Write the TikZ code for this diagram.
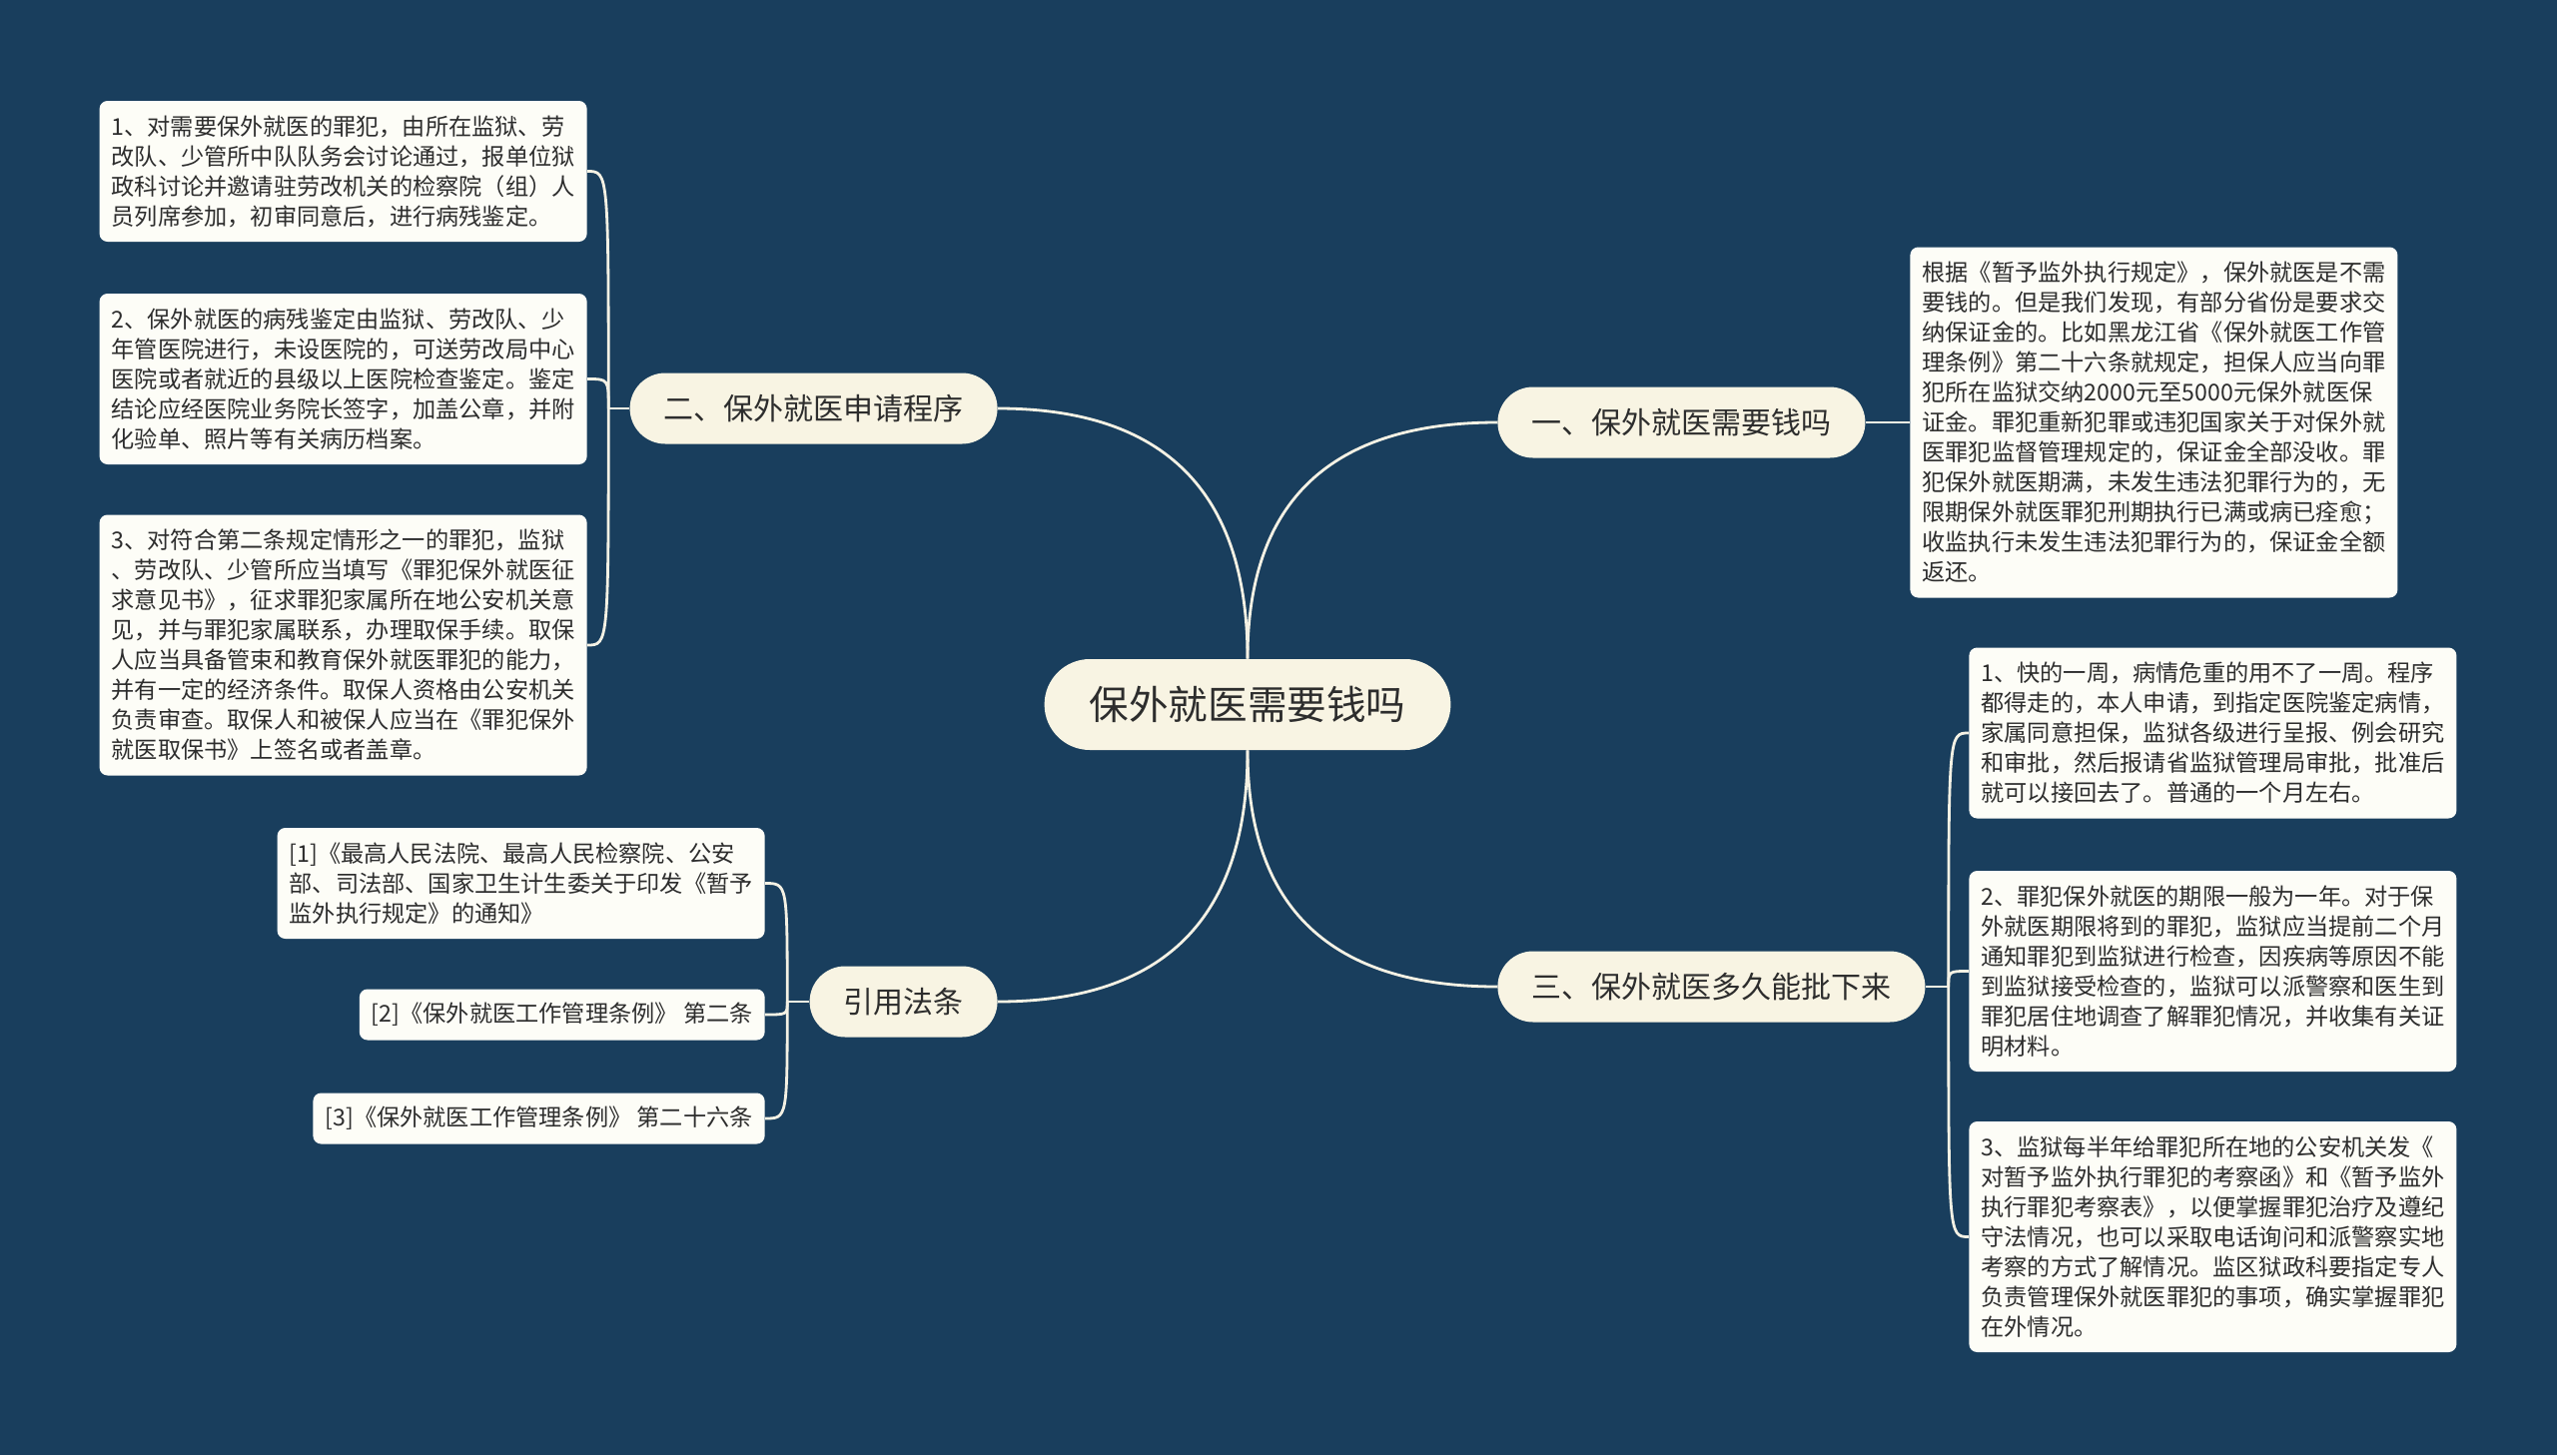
\documentclass[tikz,border=0pt]{standalone}
\usepackage{fontspec}
\setmainfont{Noto Sans CJK SC}
\usetikzlibrary{calc}
\definecolor{bg}{RGB}{25,62,93}
\definecolor{topicfill}{RGB}{248,244,227}
\definecolor{leaffill}{RGB}{253,253,247}
\definecolor{linec}{RGB}{244,241,228}
\definecolor{txt}{RGB}{45,45,45}
\begin{document}
\begin{tikzpicture}[x=0.5pt,y=-0.5pt,
  link/.style={draw=linec, line width=1.4pt},
  leafbase/.style={fill=leaffill, rounded corners=4pt, text=txt, align=left,
    inner xsep=6pt, inner ysep=0pt, font=\fontsize{11.6pt}{15pt}\selectfont},
  leaf/.style={leafbase, text width=232pt, minimum height=#1*15pt+10.5pt},
  leafone/.style={leafbase, minimum height=25.5pt},
  topic/.style={fill=topicfill, rounded corners=17.75pt, text=txt, inner xsep=17pt,
    inner ysep=0pt, minimum height=35.5pt, font=\fontsize{15pt}{18pt}\selectfont},
  root/.style={fill=topicfill, rounded corners=22.75pt, text=txt, inner xsep=22.5pt,
    inner ysep=0pt, minimum height=45.5pt, font=\fontsize{19.8pt}{24pt}\selectfont}]
\fill[bg] (0,0) rectangle (2560,1457);
\useasboundingbox (0,0) rectangle (2560,1457);

% root and topics
\node[root] (C) at (1249,705.5) {保外就医需要钱吗};
\node[topic, anchor=west] (T1) at (1499,423) {一、保外就医需要钱吗};
\node[topic, anchor=west] (T3) at (1499,988) {三、保外就医多久能批下来};
\node[topic, anchor=east] (T2) at (999,409) {二、保外就医申请程序};
\node[topic, anchor=east] (T4) at (999,1003) {引用法条};

% right leaves
\node[leaf=11, anchor=west] (RT) at (1912,423) {根据《暂予监外执行规定》，保外就医是不需\\要钱的。但是我们发现，有部分省份是要求交\\纳保证金的。比如黑龙江省《保外就医工作管\\理条例》第二十六条就规定，担保人应当向罪\\犯所在监狱交纳2000元至5000元保外就医保\\证金。罪犯重新犯罪或违犯国家关于对保外就\\医罪犯监督管理规定的，保证金全部没收。罪\\犯保外就医期满，未发生违法犯罪行为的，无\\限期保外就医罪犯刑期执行已满或病已痊愈；\\收监执行未发生违法犯罪行为的，保证金全额\\返还。};
\node[leaf=5, anchor=west] (R1) at (1971,734) {1、快的一周，病情危重的用不了一周。程序\\都得走的，本人申请，到指定医院鉴定病情，\\家属同意担保，监狱各级进行呈报、例会研究\\和审批，然后报请省监狱管理局审批，批准后\\就可以接回去了。普通的一个月左右。};
\node[leaf=6, anchor=west] (R2) at (1971,972.5) {2、罪犯保外就医的期限一般为一年。对于保\\外就医期限将到的罪犯，监狱应当提前二个月\\通知罪犯到监狱进行检查，因疾病等原因不能\\到监狱接受检查的，监狱可以派警察和医生到\\罪犯居住地调查了解罪犯情况，并收集有关证\\明材料。};
\node[leaf=7, anchor=west] (R3) at (1971,1238.5) {3、监狱每半年给罪犯所在地的公安机关发《\\对暂予监外执行罪犯的考察函》和《暂予监外\\执行罪犯考察表》，以便掌握罪犯治疗及遵纪\\守法情况，也可以采取电话询问和派警察实地\\考察的方式了解情况。监区狱政科要指定专人\\负责管理保外就医罪犯的事项，确实掌握罪犯\\在外情况。};

% left leaves
\node[leaf=4, anchor=east] (L1) at (588,171.5) {1、对需要保外就医的罪犯，由所在监狱、劳\\改队、少管所中队队务会讨论通过，报单位狱\\政科讨论并邀请驻劳改机关的检察院（组）人\\员列席参加，初审同意后，进行病残鉴定。};
\node[leaf=5, anchor=east] (L2) at (588,379.5) {2、保外就医的病残鉴定由监狱、劳改队、少\\年管医院进行，未设医院的，可送劳改局中心\\医院或者就近的县级以上医院检查鉴定。鉴定\\结论应经医院业务院长签字，加盖公章，并附\\化验单、照片等有关病历档案。};
\node[leaf=8, anchor=east] (L3) at (588,646) {3、对符合第二条规定情形之一的罪犯，监狱\\、劳改队、少管所应当填写《罪犯保外就医征\\求意见书》，征求罪犯家属所在地公安机关意\\见，并与罪犯家属联系，办理取保手续。取保\\人应当具备管束和教育保外就医罪犯的能力，\\并有一定的经济条件。取保人资格由公安机关\\负责审查。取保人和被保人应当在《罪犯保外\\就医取保书》上签名或者盖章。};

% references
\node[leaf=3, anchor=east] (F1) at (766,884.5) {[1]《最高人民法院、最高人民检察院、公安\\部、司法部、国家卫生计生委关于印发《暂予\\监外执行规定》的通知》};
\node[leafone, anchor=east] (F2) at (766,1016) {[2]《保外就医工作管理条例》 第二条};
\node[leafone, anchor=east] (F3) at (766,1120) {[3]《保外就医工作管理条例》 第二十六条};

% root to topics
\coordinate (k1) at (C.north|-T1.west);
\coordinate (k2) at (C.north|-T2.east);
\coordinate (k3) at (C.south|-T3.west);
\coordinate (k4) at (C.south|-T4.east);
\draw[link] (C.north) .. controls ($(C.north)!0.667!(k1)$) and ($(T1.west)!0.667!(k1)$) .. (T1.west);
\draw[link] (C.north) .. controls ($(C.north)!0.667!(k2)$) and ($(T2.east)!0.667!(k2)$) .. (T2.east);
\draw[link] (C.south) .. controls ($(C.south)!0.667!(k3)$) and ($(T3.west)!0.667!(k3)$) .. (T3.west);
\draw[link] (C.south) .. controls ($(C.south)!0.667!(k4)$) and ($(T4.east)!0.667!(k4)$) .. (T4.east);

% topic to leaves
\draw[link] (T1.east) -- (RT.west);

\coordinate (b3) at ($(T3.east)+(23,0)$);
\draw[link] (T3.east) -- (b3);
\foreach \n in {R1,R2,R3} \draw[link] (b3) .. controls (b3|-\n.west) .. (\n.west);

\coordinate (b2) at ($(T2.west)+(-21,0)$);
\draw[link] (T2.west) -- (b2);
\foreach \n in {L1,L2,L3} \draw[link] (b2) .. controls (b2|-\n.east) .. (\n.east);

\coordinate (b4) at ($(T4.west)+(-22,0)$);
\draw[link] (T4.west) -- (b4);
\foreach \n in {F1,F2,F3} \draw[link] (b4) .. controls (b4|-\n.east) .. (\n.east);
\end{tikzpicture}
\end{document}
